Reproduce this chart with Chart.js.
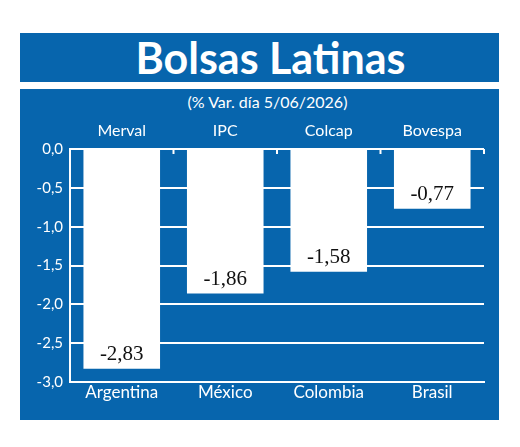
<!DOCTYPE html>
<html>
<head>
<meta charset="utf-8">
<script src="https://cdn.jsdelivr.net/npm/chart.js@4.4.1/dist/chart.umd.min.js"></script>
<style>
  html, body { margin: 0; padding: 0; background: #fff; }
  body { width: 520px; height: 447px; position: relative; overflow: hidden; font-family: Lato, "Open Sans", sans-serif; }
  .banner { position: absolute; left: 20px; top: 33px; width: 479px; height: 49px; background: #0765ad; color: #fff;
            font-weight: bold; font-size: 43px; line-height: 49px; text-align: center; box-sizing: border-box; padding-left: 22px; }
  .panel { position: absolute; left: 20px; top: 89px; width: 479px; height: 331px; background: #0765ad; }
  .sub { position: absolute; left: 0; top: 3px; width: 100%; text-align: center; color: #fff; font-size: 16px; padding-left: 16px; box-sizing: border-box; }
  #bolsasChart { position: absolute; left: 0; top: 0; }
</style>
</head>
<body>
<div class="banner">Bolsas Latinas</div>
<div class="panel">
  <div class="sub">(% Var. día 5/06/2026)</div>
  <canvas id="bolsasChart" width="479" height="331"></canvas>
</div>
<script>
const countries = ['Argentina', 'México', 'Colombia', 'Brasil'];
const indexNames = ['Merval', 'IPC', 'Colcap', 'Bovespa'];
const variation = [-2.83, -1.86, -1.58, -0.77];

const fmt = (v, d) => v.toFixed(d).replace('.', ',');

// values written inside the bars, near the bottom
const barLabels = {
  id: 'barLabels',
  afterDatasetsDraw(chart) {
    const ctx = chart.ctx;
    const meta = chart.getDatasetMeta(0);
    ctx.save();
    ctx.fillStyle = '#111';
    ctx.font = '21px "Liberation Serif", serif';
    ctx.textAlign = 'center';
    ctx.textBaseline = 'middle';
    meta.data.forEach((bar, i) => {
      ctx.fillText(fmt(variation[i], 2), bar.x, bar.y - 14);
    });
    ctx.restore();
  }
};

// short marks on the zero line between categories
const zeroTicks = {
  id: 'zeroTicks',
  beforeDatasetsDraw(chart) {
    const ctx = chart.ctx;
    const x = chart.scales.x;
    const y0 = chart.scales.y.getPixelForValue(0);
    const half = (x.getPixelForValue(1) - x.getPixelForValue(0)) / 2;
    ctx.save();
    ctx.strokeStyle = '#ffffff';
    ctx.lineWidth = 2;
    countries.forEach((c, i) => {
      const px = x.getPixelForValue(i) + half;
      ctx.beginPath();
      ctx.moveTo(px, y0);
      ctx.lineTo(px, y0 + 5);
      ctx.stroke();
    });
    ctx.restore();
  }
};

new Chart(document.getElementById('bolsasChart').getContext('2d'), {
  type: 'bar',
  data: {
    labels: countries,
    datasets: [{
      data: variation,
      backgroundColor: '#ffffff',
      borderWidth: 0,
      barPercentage: 0.74,
      categoryPercentage: 1
    }]
  },
  options: {
    responsive: false,
    animation: false,
    devicePixelRatio: 1,
    layout: { padding: { left: 0, right: 15, top: 0, bottom: 0 } },
    plugins: { legend: { display: false }, tooltip: { enabled: false } },
    scales: {
      x: {
        position: 'bottom',
        grid: { display: false, drawTicks: false },
        border: { color: '#ffffff', width: 2 },
        ticks: { color: '#ffffff', font: { family: 'Lato', size: 17 }, padding: 0 },
        afterFit(scale) { scale.height = 38; }
      },
      xTop: {
        type: 'category',
        labels: indexNames,
        position: 'top',
        grid: { display: false, drawTicks: false },
        border: { display: false },
        ticks: { color: '#ffffff', font: { family: 'Lato', size: 16 }, padding: 9 },
        afterFit(scale) { scale.height = 60; }
      },
      y: {
        min: -3,
        max: 0,
        ticks: {
          stepSize: 0.5,
          color: '#ffffff',
          font: { family: 'Lato', size: 15 },
          padding: 7,
          callback: v => fmt(v, 1)
        },
        grid: { color: '#ffffff', lineWidth: 2, drawTicks: false },
        border: { color: '#ffffff', width: 2 },
        afterFit(scale) { scale.width = 50; }
      }
    }
  },
  plugins: [barLabels, zeroTicks]
});
</script>
</body>
</html>
